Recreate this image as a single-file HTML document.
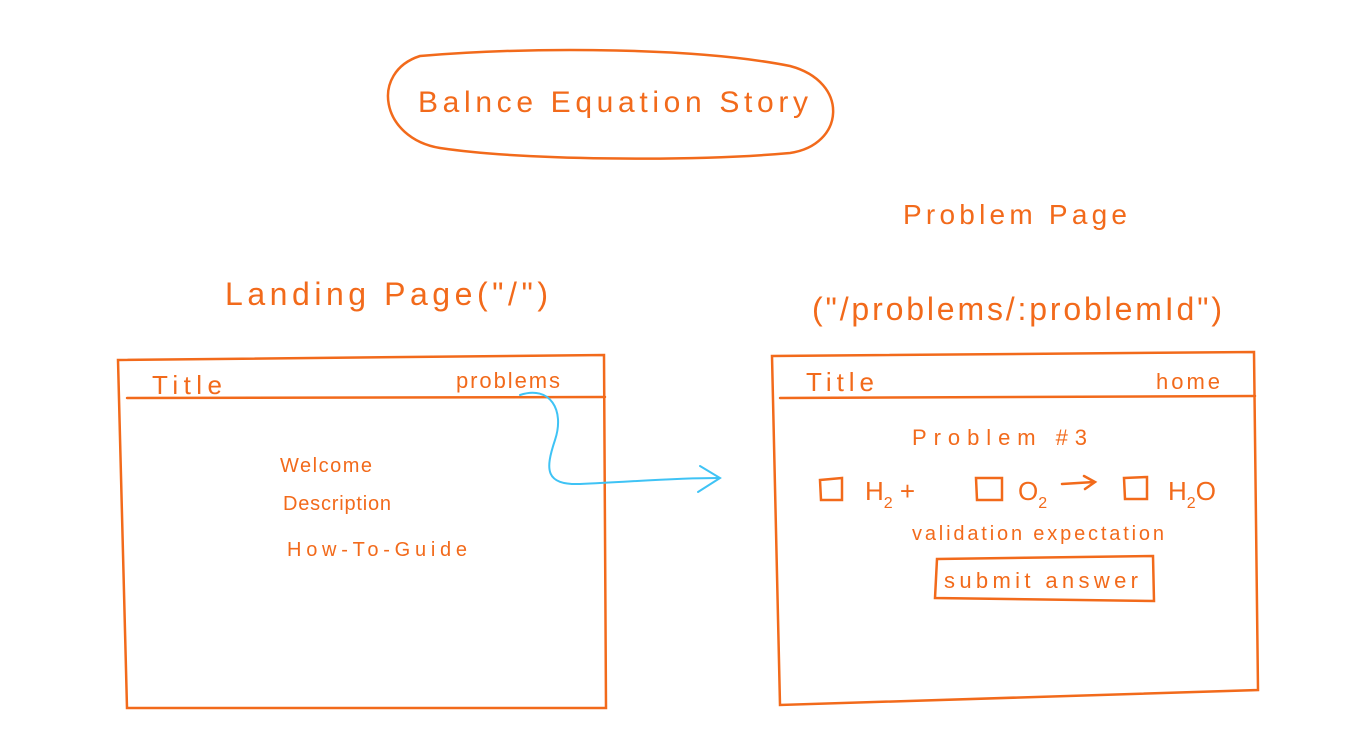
<!DOCTYPE html>
<html><head><meta charset="utf-8"><style>
html,body{margin:0;padding:0;background:#fff;}
svg text{font-family:"Liberation Sans",sans-serif;fill:#f26a1b;}
</style></head><body>
<svg width="1356" height="745" viewBox="0 0 1356 745" xmlns="http://www.w3.org/2000/svg">
<g fill="none" stroke="#f26a1b" stroke-width="2.5" stroke-linecap="round">
<path d="M420 56 C540 46 700 48 790 66 C850 82 845 145 790 153 C690 162 520 160 440 148 C380 138 370 72 420 56 Z"/>
<path d="M118 360 L604 355 L606 708 L127 708 Z"/>
<path d="M127 398 L605 397"/>
<path d="M772 356 L1254 352 L1258 690 L780 705 Z"/>
<path d="M780 398 L1255 396"/>
<path d="M937 559 L1153 556 L1154 601 L935 598 Z"/>
<path d="M820 480 L842 478 L842 500 L821 500 Z"/>
<path d="M976 478 L1002 478 L1002 500 L977 500 Z"/>
<path d="M1124 478 L1147 477 L1147 499 L1125 499 Z"/>
<path d="M1062 484 L1094 482 M1084 476 L1095 482 L1085 489"/>
</g>
<g fill="none" stroke="#3fc3f5" stroke-width="2" stroke-linecap="round">
<path d="M520 395 C550 385 565 410 555 440 C545 470 545 485 580 484 C630 482 670 478 718 478"/>
<path d="M700 466 L720 478 L698 492"/>
</g>
<text x="418" y="112" font-size="30" textLength="390" lengthAdjust="spacing">Balnce  Equation  Story</text>
<text x="903" y="224" font-size="28" textLength="224" lengthAdjust="spacing">Problem  Page</text>
<text x="225" y="305" font-size="32" textLength="323" lengthAdjust="spacing">Landing  Page("/")</text>
<text x="812" y="320" font-size="32" textLength="410" lengthAdjust="spacing">("/problems/:problemId")</text>
<text x="152" y="394" font-size="26" textLength="70" lengthAdjust="spacing">Title</text>
<text x="456" y="388" font-size="22" textLength="104" lengthAdjust="spacing">problems</text>
<text x="280" y="472" font-size="20" textLength="92" lengthAdjust="spacing">Welcome</text>
<text x="283" y="510" font-size="20" textLength="108" lengthAdjust="spacing">Description</text>
<text x="287" y="556" font-size="20" textLength="180" lengthAdjust="spacing">How-To-Guide</text>
<text x="806" y="391" font-size="26" textLength="68" lengthAdjust="spacing">Title</text>
<text x="1156" y="389" font-size="22" textLength="64" lengthAdjust="spacing">home</text>
<text x="912" y="445" font-size="22" textLength="175" lengthAdjust="spacing">Problem  #3</text>
<text x="865" y="500" font-size="26">H<tspan font-size="16" dy="8">2</tspan><tspan dy="-8">  +</tspan></text>
<text x="1018" y="500" font-size="26">O<tspan font-size="16" dy="8">2</tspan></text>
<text x="1168" y="500" font-size="26">H<tspan font-size="16" dy="8">2</tspan><tspan dy="-8">O</tspan></text>
<text x="912" y="540" font-size="20" textLength="252" lengthAdjust="spacing">validation expectation</text>
<text x="944" y="588" font-size="22" textLength="194" lengthAdjust="spacing">submit  answer</text>
</svg>
</body></html>
